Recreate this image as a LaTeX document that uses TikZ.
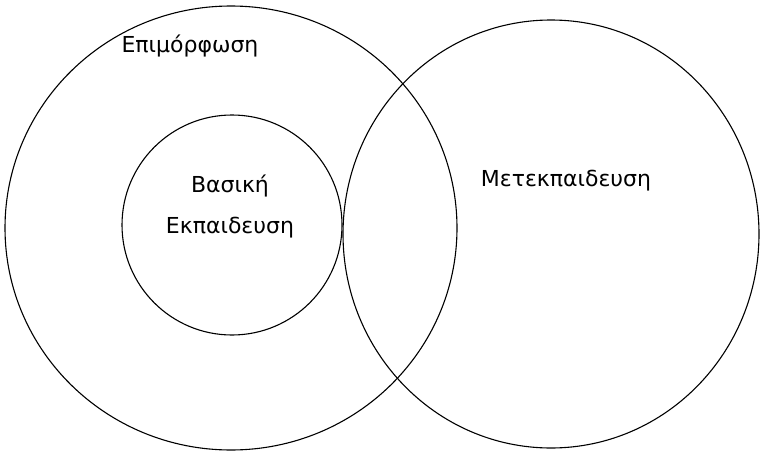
\documentclass[tikz,border=0pt]{standalone}
\usepackage{fontspec}
\setmainfont{DejaVu Sans}
\usepackage{tikz}
\usetikzlibrary{positioning,shapes.geometric}
\tikzset{
  setel/.style={draw=black,ellipse,line width=1.1pt,inner sep=0pt},
  setlbl/.style={font=\fontsize{22}{27}\selectfont,align=center,inner sep=1pt},
}

\begin{document}
\begin{tikzpicture}[x=1pt,y=1pt]
  \useasboundingbox (0,0) rectangle (763,-455);

  % --- ellipses -----------------------------------------------------------
  \node[setel,minimum width=452,minimum height=444] (epim) at (231,-228) {};
  \node[setel,minimum width=416,minimum height=428] (metek) at (551,-234) {};
  \node[setel,minimum width=220,minimum height=220] (vasiki) at (232,-225) {};

  % --- labels -------------------------------------------------------------
  \node[setlbl] (lepim) at (190,-46) {Επιμόρφωση};
  \node[setlbl] (lvasiki) at (230,-206) {Βασική\\[14pt]Εκπαιδευση};
  \node[setlbl] (lmetek) at (566,-181) {Μετεκπαιδευση};
\end{tikzpicture}
\end{document}
